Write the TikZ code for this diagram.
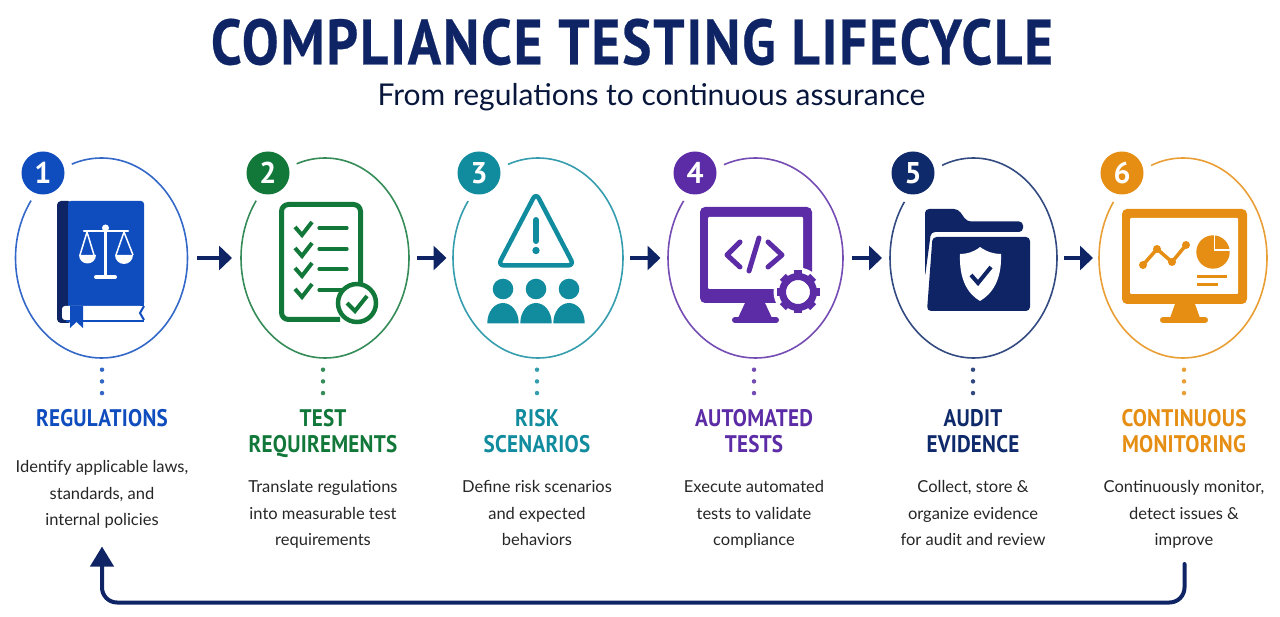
\documentclass[tikz,border=0pt]{standalone}
\usepackage{fontspec}
\setmainfont{PT Sans}
\newfontfamily\lightfont{Lato}
\newfontfamily\titlefont[FakeStretch=0.86,LetterSpace=3,FakeBold=0.4]{PT Sans}
\newfontfamily\headfont[FakeStretch=0.88,LetterSpace=1]{PT Sans}
\usetikzlibrary{arrows.meta,shapes.geometric}

\definecolor{navy}{HTML}{0E2464}
\definecolor{stepa}{HTML}{0F4DBE}
\definecolor{stepb}{HTML}{12783A}
\definecolor{stepc}{HTML}{118C9E}
\definecolor{stepd}{HTML}{5C2CA6}
\definecolor{stepe}{HTML}{0F2A6B}
\definecolor{stepf}{HTML}{E58E13}

\tikzset{
  ring/.style={draw=#1!85,line width=1.6pt,ellipse,inner sep=0pt},
  badge/.style={circle,fill=#1,minimum size=43pt,inner sep=0pt,text=white,font=\fontsize{30}{30}\selectfont\bfseries},
  mask/.style={circle,fill=white,minimum size=60pt,inner sep=0pt},
  headtext/.style={text=#1,align=center,font=\headfont\fontsize{24}{26}\selectfont\bfseries},
  bodytext/.style={text=black!85,align=center,font=\lightfont\fontsize{16.5}{26.5}\selectfont},
  flow/.style={draw=navy,line width=4.5pt,-{Triangle[length=13pt,width=24pt]}},
  dots/.style={draw=#1!85,line width=4.5pt,line cap=round,dash pattern=on 0pt off 11.7pt},
}

\begin{document}
\begin{tikzpicture}[x=1pt,y=-1pt]
  \useasboundingbox (0,0) rectangle (1280,617);

  % title
  \node[text=navy] (title) at (632,42) {\titlefont\fontsize{64}{64}\selectfont\bfseries COMPLIANCE TESTING LIFECYCLE};
  \node[text=navy!60!black] (subtitle) at (651.5,97) {\lightfont\fontsize{30}{30}\selectfont From regulations to continuous assurance};

  % rings
  \foreach \name/\cx/\rx/\col/\bx/\num in {a/101.5/86/stepa/43/1,b/325/84/stepb/268/2,c/538/85/stepc/479/3,d/755.5/87.5/stepd/695/4,e/973.5/83.5/stepe/913/5,f/1183/84/stepf/1122/6} {
    \node[ring=\col,minimum width=2*\rx pt,minimum height=200pt] (ring\name) at (\cx,258) {};
    \node[mask] (mask\name) at (\bx,173) {};
    \node[badge=\col] (badge\name) at (\bx,173) {\num};
  }

  % 1 book
  \fill[navy,rounded corners=4pt] (57,201) rectangle (72,323);
  \fill[stepa,rounded corners=3pt] (68,306) -- (68,201) -- (144,201) -- (144,306) -- cycle;
  \fill[stepa] (68,298) rectangle (144,306);
  \fill[white,rounded corners=3pt] (62,320) -- (62,306) -- (143,306) -- (139,313) -- (143,320) -- cycle;
  \draw[stepa,line width=2.5pt] (66,321) -- (144,321);
  \draw[stepa,line width=2pt] (144,306) -- (140,313) -- (144,320);
  \fill[stepa] (70,306) -- (83,306) -- (83,328) -- (76.5,322) -- (70,328) -- cycle;
  \draw[white,line width=3.5pt,line cap=round] (105.5,229) -- (105.5,275);
  \draw[white,line width=2.5pt,line cap=round] (84,231) -- (128,231);
  \draw[white,line width=4pt,line cap=round] (96,277) -- (115,277);
  \fill[white] (105.5,228) circle (3.5pt);
  \draw[white,line width=1.5pt] (87,232) -- (80,255) (87,232) -- (94,255) (124,232) -- (116,255) (124,232) -- (133,255);
  \fill[white] (79,255) -- (96,255) arc[start angle=0,end angle=-180,radius=8.5pt] -- cycle;
  \fill[white] (115,255) -- (133,255) arc[start angle=0,end angle=-180,radius=9pt] -- cycle;

  % 2 checklist
  \draw[stepb,line width=5pt,rounded corners=7pt] (360.5,285) -- (360.5,204.5) -- (281.5,204.5) -- (281.5,319.5) -- (340,319.5);
  \foreach \yy in {228,249,269,290} {
    \draw[stepb,line width=4pt] (295,\yy-1) -- (302,\yy+7) -- (312,\yy-6);
    \draw[stepb,line width=3.2pt,line cap=round] (319,\yy) -- (347,\yy);
  }
  \node[circle,draw=stepb,fill=white,line width=4.5pt,minimum size=38pt,inner sep=0pt] (checkb) at (357,303) {};
  \draw[stepb,line width=4pt] (347,303) -- (355,311) -- (367,296);

  % 3 warning and people
  \draw[stepc,line width=4.5pt,line join=round,rounded corners=6pt] (536,193) -- (574,265.5) -- (498,265.5) -- cycle;
  \draw[stepc,line width=6pt,line cap=round] (536,220) -- (536,241);
  \fill[stepc] (536,250.5) circle (3.7pt);
  \foreach \px in {503,536,569} {
    \fill[stepc] (\px,289) circle (10.3pt);
    \fill[stepc] (\px-15.7,323.5) -- (\px-15.7,323) arc[start angle=180,end angle=0,x radius=15.7pt,y radius=20pt] -- (\px+15.7,323.5) -- cycle;
  }

  % 4 monitor with gear
  \fill[stepd,rounded corners=5pt] (700,207) rectangle (812,303);
  \fill[white,rounded corners=1pt] (708,217) rectangle (803,289);
  \fill[stepd] (745,303) -- (765,303) -- (772,318) -- (738,318) -- cycle;
  \draw[stepd,line width=6pt,line cap=round] (735,320) -- (776,320);
  \draw[stepd,line width=5pt,line cap=round,line join=round] (740,242) -- (727,255) -- (740,267) (768,242) -- (782,255) -- (768,267);
  \draw[stepd,line width=5pt,line cap=round] (759,238) -- (749,271);
  \fill[white] (798,292) circle (24.5pt);
  \foreach \ang in {0,45,...,315} \fill[stepd,rotate around={\ang:(798,292)}] (793.8,270.5) rectangle (802.2,280);
  \draw[stepd,line width=7pt] (798,292) circle (15.5pt);

  % 5 folder
  \fill[navy,rounded corners=4pt] (925,277) -- (925,209) -- (958,209) -- (967,221.5) -- (1023,221.5) -- (1023,232) -- (931,232) -- cycle;
  \fill[navy,rounded corners=4pt] (932.5,237) -- (1030,237) -- (1030,311) -- (927,311) -- cycle;
  \fill[white] (980,247) .. controls (987,252) and (994,254) .. (1001,254) .. controls (1002,280) and (992,294) .. (980,301) .. controls (968,294) and (959,280) .. (960,254) .. controls (967,254) and (974,252) .. (980,247) -- cycle;
  \draw[navy,line width=4pt] (971,275) -- (978,283) -- (991,267);

  % 6 monitor with chart
  \fill[stepf,rounded corners=5pt] (1122,209) rectangle (1247,304);
  \fill[white,rounded corners=1pt] (1130,218) rectangle (1238,294);
  \fill[stepf] (1175,304) -- (1195,304) -- (1200,318) -- (1170,318) -- cycle;
  \draw[stepf,line width=6pt,line cap=round] (1163,320) -- (1205,320);
  \draw[stepf,line width=3.5pt] (1143,265) -- (1157,249) -- (1172,262) -- (1186,245);
  \foreach \px/\py in {1143/265,1157/249,1172/262,1186/245} \fill[stepf] (\px,\py) circle (4pt);
  \fill[stepf] (1213,252) circle (16.7pt);
  \draw[white,line width=1.5pt] (1214.5,232) -- (1214.5,250) -- (1233,250);
  \draw[stepf,line width=3pt] (1197,277) -- (1227,277) (1197,284.5) -- (1218,284.5);

  % connectors between rings
  \foreach \fromx/\tox in {197/232,417/446.5,630/660.5,851.5/882,1064/1093} {
    \coordinate (from) at (\fromx,258);
    \coordinate (to) at (\tox,258);
    \draw[flow] (from) -- (to);
  }

  % dots, headings, texts
  \foreach \name/\cx/\col/\heady/\head/\bodyy/\body in {
    a/102/stepa/421.3/REGULATIONS/493.7/{Identify applicable laws,\\standards, and\\internal policies},
    b/323/stepb/434.3/{TEST\\REQUIREMENTS}/513.7/{Translate regulations\\into measurable test\\requirements},
    c/537/stepc/434.3/{RISK\\SCENARIOS}/513.7/{Define risk scenarios\\and expected\\behaviors},
    d/754/stepd/434.3/{AUTOMATED\\TESTS}/513.7/{Execute automated\\tests to validate\\compliance},
    e/973/stepe/434.3/{AUDIT\\EVIDENCE}/513.7/{Collect, store \&\\organize evidence\\for audit and review},
    f/1184/stepf/434.3/{CONTINUOUS\\MONITORING}/513.7/{Continuously monitor,\\detect issues \&\\improve}} {
    \coordinate (dtop\name) at (\cx,369.7);
    \coordinate (dbot\name) at (\cx,394);
    \draw[dots=\col] (dtop\name) -- (dbot\name);
    \node[headtext=\col] (head\name) at (\cx,\heady) {\strut\head\strut};
    \node[bodytext] (body\name) at (\cx,\bodyy) {\strut\body\strut};
  }

  % return loop
  \coordinate (loopa) at (1184.5,564);
  \coordinate (loopb) at (102,546.5);
  \draw[navy,line width=4pt,line cap=round,rounded corners=15pt,-{Triangle[length=20pt,width=23pt]}] (loopa) -- (1184.5,602.5) -- (102,602.5) -- (loopb);
\end{tikzpicture}
\end{document}
